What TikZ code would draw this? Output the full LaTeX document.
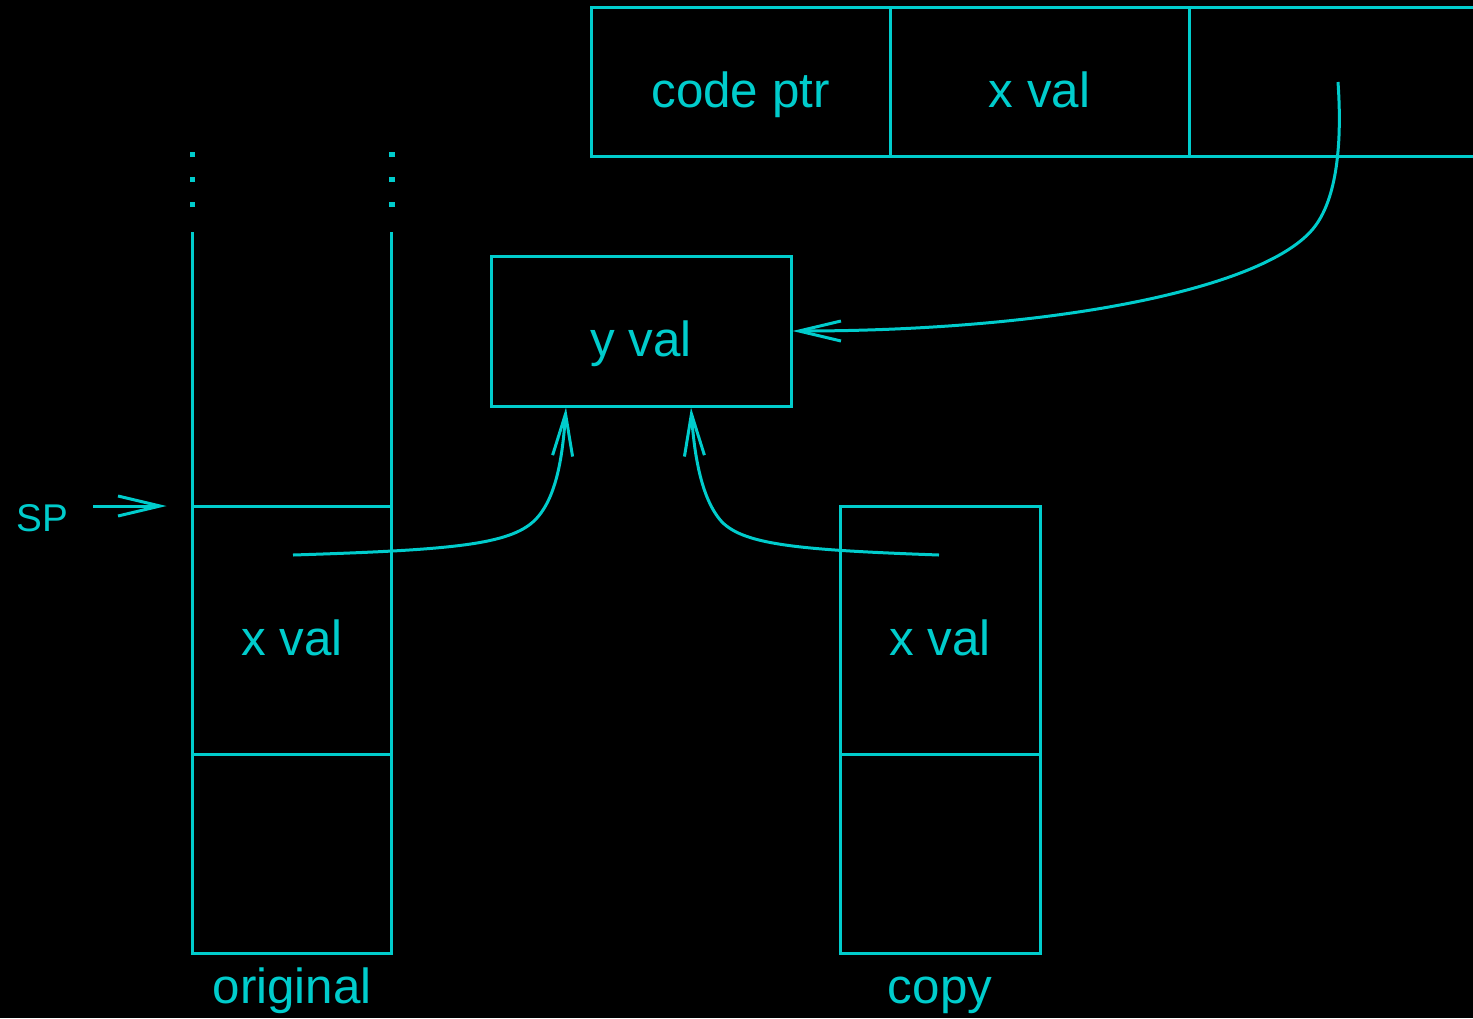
\documentclass[tikz,border=0pt]{standalone}
\usepackage{fontspec}
\setmainfont{Liberation Sans}
\usetikzlibrary{arrows.meta,calc}
\definecolor{ptrcyan}{RGB}{0,204,204}
\tikzset{
  cell/.style={draw=ptrcyan, line width=2.25pt, inner sep=0pt, outer sep=0pt},
  lbl/.style={text=ptrcyan, anchor=base, inner sep=0pt, font=\fontsize{37}{44}\selectfont},
  ptr/.style={draw=ptrcyan, line width=2.25pt, -{Straight Barb[length=31.5pt,width=15pt]}},
}
\begin{document}
\begin{tikzpicture}[x=0.75pt,y=0.75pt,yscale=-1,xscale=1]
    \useasboundingbox (0,0) rectangle (1473,1018);
    \fill[black] (0,0) rectangle (1473,1018);
    \clip (0,0) rectangle (1473,1018);

    %Shape: Rectangle (closure record)
    \node[cell, minimum width=224.25pt, minimum height=112.1pt] (codeptr) at (740.5,82.25) {};
    \node[cell, minimum width=224.25pt, minimum height=112.1pt] (envx) at (1039.5,82.25) {};
    \node[cell, minimum width=224.25pt, minimum height=112.1pt] (envy) at (1338.5,82.25) {};
    %Shape: Rectangle (heap cell)
    \node[cell, minimum width=225pt, minimum height=112.5pt] (yval) at (641,331) {};
    %Shape: Rectangle (original stack)
    \node[cell, minimum width=149.6pt, minimum height=186pt] (xorig) at (292.25,630) {};
    \node[cell, minimum width=149.6pt, minimum height=149.25pt] (origlow) at (292.25,853.5) {};
    %Shape: Rectangle (copied stack)
    \node[cell, minimum width=150pt, minimum height=186pt] (xcopy) at (940,630) {};
    \node[cell, minimum width=150pt, minimum height=149.25pt] (copylow) at (940,853.5) {};

    %Straight Lines (open top of the stack)
    \draw[ptrcyan, line width=2.25pt] (xorig.north west) -- ++(0,-274);
    \draw[ptrcyan, line width=2.25pt] (xorig.north east) -- ++(0,-274);
    \foreach \x in {192.5,392} {
      \foreach \y in {154,179,204} {
        \fill[ptrcyan] (\x-2.75,\y-2.5) rectangle (\x+2.75,\y+2.5);
      }
    }

    % Text Node
    \node[lbl] (codeptrtxt) at ($(codeptr.center)+(0,25)$) {code ptr};
    % Text Node
    \node[lbl] (envxtxt) at ($(envx.center)+(0,25)$) {x val};
    % Text Node
    \node[lbl] (yvaltxt) at ($(yval.center)+(0,25.5)$) {y val};
    % Text Node
    \node[lbl] (xorigtxt) at ($(xorig.center)+(0,25.5)$) {x val};
    % Text Node
    \node[lbl] (xcopytxt) at ($(xcopy.center)+(0,25.5)$) {x val};
    % Text Node
    \node[lbl] (origtxt) at ($(origlow.south)+(0,50)$) {original};
    % Text Node
    \node[lbl] (copytxt) at ($(copylow.south)+(0,50)$) {copy};
    % Text Node
    \node[lbl, font=\fontsize{29}{35}\selectfont] (sp) at (42,531.5) {SP};

    %Straight Lines (stack pointer)
    \coordinate (spfrom) at (93,506);
    \draw[ptr] (spfrom) -- ($(xorig.north west)+(-26,0)$);

    %Curve Lines (pointers to y val)
    \coordinate (envptr) at (1338,82);
    \coordinate (origptr) at (293,555);
    \coordinate (copyptr) at (939,555);
    \draw[ptr] (envptr) .. controls (1342,140) and (1338,200) .. (1312,230)
      .. controls (1260,290) and (1050,331) .. ($(yval.east)+(1.5,0)$);
    \draw[ptr] (origptr) .. controls (450,550) and (510,545) .. (535,520)
      .. controls (558,497) and (563,450) .. ($(yval.south)+(-75,1.5)$);
    \draw[ptr] (copyptr) .. controls (800,550) and (745,545) .. (722,522)
      .. controls (700,498) and (694,450) .. ($(yval.south)+(50,1.5)$);
\end{tikzpicture}
\end{document}
